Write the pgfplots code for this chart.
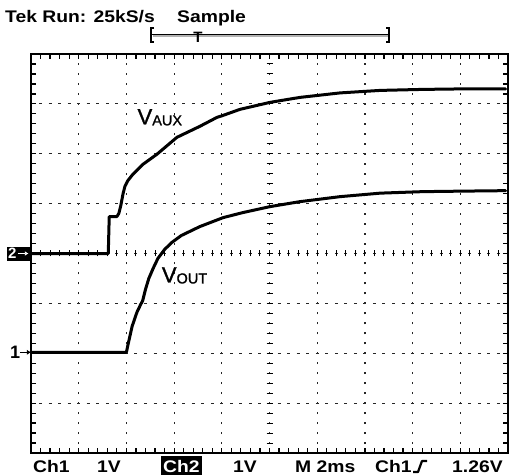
\documentclass[border=0pt]{standalone}
\usepackage{fontspec}
\setmainfont{Liberation Sans}
\newfontfamily\lbl[FakeBold=1.3]{Liberation Sans}
\usepackage{graphicx}
\usepackage{pgfplots}
\pgfplotsset{compat=1.18}
\usetikzlibrary{arrows.meta}
\newcommand\tk[1]{\scalebox{1.15}[1]{\fontsize{16.8bp}{18bp}\selectfont\bfseries #1}}
\pgfplotstableread{
x y
0 0
1.62 0
1.64 0.74
1.80 0.74
1.84 0.80
1.88 0.95
1.93 1.20
1.97 1.35
2.03 1.46
2.12 1.57
2.35 1.79
2.64 1.99
3.06 2.33
3.54 2.55
3.80 2.68
3.90 2.73
4.00 2.76
4.38 2.89
5.01 3.03
5.64 3.13
6.48 3.22
7.32 3.27
8.20 3.29
9.00 3.30
9.95 3.30
}\vaux
\pgfplotstableread{
x y
0 -1.98
2.00 -1.98
2.04 -1.80
2.12 -1.46
2.22 -1.18
2.30 -1.02
2.34 -0.95
2.40 -0.72
2.47 -0.50
2.56 -0.30
2.66 -0.10
2.80 0.08
2.95 0.22
3.15 0.36
3.54 0.54
4.03 0.72
4.44 0.82
5.01 0.94
5.64 1.04
6.48 1.14
7.32 1.21
8.20 1.24
9.00 1.25
9.95 1.26
}\vout
\begin{document}
\begin{tikzpicture}
\path[use as bounding box] (-31bp,-22bp) rectangle (478bp,453bp);
\begin{axis}[
  at={(0,0)}, anchor=south west,
  scale only axis, width=477bp, height=399bp,
  xmin=0, xmax=10, ymin=-4, ymax=4,
  xtick={0,...,10}, ytick={-4,...,4},
  xticklabels={}, yticklabels={},
  minor x tick num=4, minor y tick num=4,
  tick align=inside, major tick length=5bp, minor tick length=5bp,
  tick style={line width=1.2bp, black},
  grid=major,
  x grid style={dash pattern=on 2bp off 7.975bp, dash phase=1bp, line width=1.2bp, black!85},
  y grid style={dash pattern=on 3bp off 6.54bp, dash phase=1.5bp, line width=1.2bp, black!85},
  axis line style={line width=2.5bp},
  clip=false,
]
\addplot[black, line width=3bp, line join=round, line cap=round] table {\vaux};
\addplot[black, line width=3bp, line join=round, line cap=round] table {\vout};
\node[anchor=base west, inner sep=0pt, font=\lbl\fontsize{22bp}{23bp}\selectfont] at (axis cs:2.23,2.59) {V\raisebox{-1bp}{\fontsize{14.5bp}{15bp}\selectfont AUX}};
\node[anchor=base west, inner sep=0pt, font=\lbl\fontsize{22bp}{23bp}\selectfont] at (axis cs:2.74,-0.58) {V\raisebox{-1bp}{\fontsize{14.5bp}{15bp}\selectfont OUT}};
\end{axis}
% center crosshair ticks
\foreach \i in {1,...,39} \draw[line width=1bp] (235.5bp,{\i*9.975bp}) -- ++(6bp,0);
\foreach \i in {1,...,49} \draw[line width=1bp] ({\i*9.54bp},196.5bp) -- ++(0,6bp);
% top text
\node[anchor=base west, inner sep=0pt] at (-26bp,430bp) {\tk{Tek Run: 25kS/s}};
\node[anchor=base west, inner sep=0pt] at (146bp,430bp) {\tk{Sample}};
% trigger bar
\draw[black!30, line width=1.5bp] (122bp,417bp) -- (357bp,417bp);
\draw[black, line width=1.3bp] (121bp,418.5bp) -- (357bp,418.5bp);
\draw[black, line width=2.5bp] (123bp,425bp) -- (120bp,425bp) -- (120bp,411bp) -- (123bp,411bp);
\draw[black, line width=2.5bp] (355bp,425bp) -- (358bp,425bp) -- (358bp,411bp) -- (355bp,411bp);
\node[anchor=north, inner sep=0pt, font=\fontsize{15bp}{16bp}\selectfont\bfseries] at (167bp,421bp) {T};
% ground markers
\fill[black] (-24bp,192bp) rectangle (-1bp,206bp);
\node[anchor=base west, inner sep=0pt, text=white, font=\fontsize{15bp}{16bp}\selectfont\bfseries] at (-23bp,194bp) {2};
\draw[white, line width=1.3bp, -{Latex[length=3.5bp,width=4.5bp]}] (-13bp,199.5bp) -- (-2.5bp,199.5bp);
\draw[black, line width=1.3bp] (-1bp,199.5bp) -- (2bp,199.5bp);
\node[anchor=base west, inner sep=0pt, font=\fontsize{18bp}{19bp}\selectfont\bfseries] at (-21bp,94bp) {1};
\draw[black, line width=1.3bp, -{Latex[length=4bp,width=5bp]}] (-11bp,100.7bp) -- (0bp,100.7bp);
% bottom text
\begin{scope}[every node/.style={anchor=base west, inner sep=0pt}]
\node at (2bp,-19bp) {\tk{Ch1}};
\node at (66bp,-19bp) {\tk{1V}};
\fill[black] (130bp,-22bp) rectangle (171bp,-3bp);
\node[text=white] at (132bp,-19bp) {\tk{Ch2}};
\node at (202bp,-19bp) {\tk{1V}};
\node at (264bp,-19bp) {\tk{M 2ms}};
\node at (344bp,-19bp) {\tk{Ch1}};
\node at (421bp,-19bp) {\tk{1.26V}};
\end{scope}
\draw[black, line width=2.2bp, line join=round] (382bp,-19bp) -- (387bp,-19bp) -- (391bp,-8bp) -- (396bp,-8bp);
\end{tikzpicture}
\end{document}
